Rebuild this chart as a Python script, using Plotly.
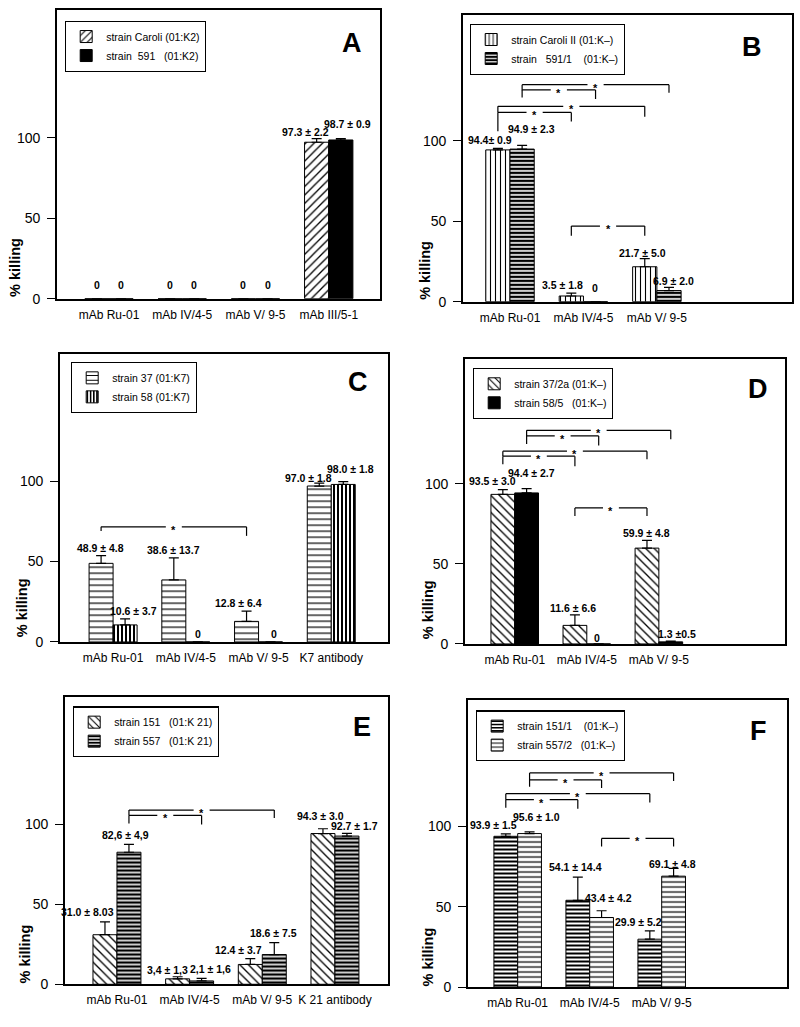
import plotly.graph_objects as go

W, H = 800, 1027
NB = "\u00a0"

# ------------------------- DATA -------------------------
# Panel A
cats_A = ["mAb Ru-01", "mAb IV/4-5", "mAb V/ 9-5", "mAb III/5-1"]
names_A = ["strain Caroli (01:K2)", "strain" + NB * 2 + "591" + NB * 3 + "(01:K2)"]
vals_A1 = [0, 0, 0, 97.3]
sd_A1 = [0, 0, 0, 2.2]
vals_A2 = [0, 0, 0, 98.7]
sd_A2 = [0, 0, 0, 0.9]
text_A1 = ["0", "0", "0", "97.3 ± 2.2"]
text_A2 = ["0", "0", "0", "98.7 ± 0.9"]

# Panel B
cats_B = ["mAb Ru-01", "mAb IV/4-5", "mAb V/ 9-5"]
names_B = ["strain Caroli II (01:K–)", "strain" + NB * 3 + "591/1" + NB * 4 + "(01:K–)"]
vals_B1 = [94.4, 3.5, 21.7]
sd_B1 = [0.9, 1.8, 5.0]
vals_B2 = [94.9, 0, 6.9]
sd_B2 = [2.3, 0, 2.0]
text_B1 = ["94.4± 0.9", "3.5 ± 1.8", "21.7 ± 5.0"]
text_B2 = ["94.9 ± 2.3", "0", "6.9 ± 2.0"]

# Panel C
cats_C = ["mAb Ru-01", "mAb IV/4-5", "mAb V/ 9-5", "K7 antibody"]
names_C = ["strain 37 (01:K7)", "strain 58 (01:K7)"]
vals_C1 = [48.9, 38.6, 12.8, 97.0]
sd_C1 = [4.8, 13.7, 6.4, 1.8]
vals_C2 = [10.6, 0, 0, 98.0]
sd_C2 = [3.7, 0, 0, 1.8]
text_C1 = ["48.9 ± 4.8", "38.6 ± 13.7", "12.8 ± 6.4", "97.0 ± 1.8"]
text_C2 = ["10.6 ± 3.7", "0", "0", "98.0 ± 1.8"]

# Panel D
cats_D = ["mAb Ru-01", "mAb IV/4-5", "mAb V/ 9-5"]
names_D = ["strain 37/2a (01:K–)", "strain 58/5" + NB * 3 + "(01:K–)"]
vals_D1 = [93.5, 11.6, 59.9]
sd_D1 = [3.0, 6.6, 4.8]
vals_D2 = [94.4, 0, 1.3]
sd_D2 = [2.7, 0, 0.5]
text_D1 = ["93.5 ± 3.0", "11.6 ± 6.6", "59.9 ± 4.8"]
text_D2 = ["94.4 ± 2.7", "0", "1.3 ±0.5"]

# Panel E
cats_E = ["mAb Ru-01", "mAb IV/4-5", "mAb V/ 9-5", "K 21 antibody"]
names_E = ["strain 151" + NB * 3 + "(01:K 21)", "strain 557" + NB * 3 + "(01:K 21)"]
vals_E1 = [31.0, 3.4, 12.4, 94.3]
sd_E1 = [8.03, 1.3, 3.7, 3.0]
vals_E2 = [82.6, 2.1, 18.6, 92.7]
sd_E2 = [4.9, 1.6, 7.5, 1.7]
text_E1 = ["31.0 ± 8.03", "3,4 ± 1,3", "12.4 ± 3.7", "94.3 ± 3.0"]
text_E2 = ["82,6 ± 4,9", "2,1 ± 1,6", "18.6 ± 7.5", "92.7 ± 1.7"]

# Panel F
cats_F = ["mAb Ru-01", "mAb IV/4-5", "mAb V/ 9-5"]
names_F = ["strain 151/1" + NB * 4 + "(01:K–)", "strain 557/2" + NB * 3 + "(01:K–)"]
vals_F1 = [93.9, 54.1, 29.9]
sd_F1 = [1.5, 14.4, 5.2]
vals_F2 = [95.6, 43.4, 69.1]
sd_F2 = [1.0, 4.2, 4.8]
text_F1 = ["93.9 ± 1.5", "54.1 ± 14.4", "29.9 ± 5.2"]
text_F2 = ["95.6 ± 1.0", "43.4 ± 4.2", "69.1 ± 4.8"]

# significance brackets: (cat0, series0, cat1, series1, level)
br_B = [(0, 1, 2, 1, 135), (0, 1, 1, 1, 131.7), (0, 0, 2, 0, 121.5), (0, 0, 1, 0, 117.7), (1, 0, 2, 0, 47)]
br_C = [(0, 0, 2, 0, 71.6)]
br_D = [(0, 1, 2, 1, 133.5), (0, 1, 1, 1, 130), (0, 0, 2, 0, 120.5), (0, 0, 1, 0, 117.4), (1, 0, 2, 0, 85)]
br_E = [(0, 1, 2, 1, 109), (0, 1, 1, 1, 105.6)]
br_F = [(0, 1, 2, 1, 133.3), (0, 1, 1, 1, 129), (0, 0, 2, 0, 120.4), (0, 0, 1, 0, 116.7), (1, 1, 2, 1, 92.6)]

# ------------------------- STYLE / LAYOUT -------------------------
PAT = {
    "fwd": dict(shape="/", size=6, solidity=0.22),
    "back": dict(shape="\\", size=6, solidity=0.22),
    "vert": dict(shape="|", size=5, solidity=0.22),
    "vert_dark": dict(shape="|", size=4, solidity=0.5),
    "hor_light": dict(shape="-", size=6, solidity=0.2),
    "hor_mid": dict(shape="-", size=5, solidity=0.25),
    "hor_dark": dict(shape="-", size=4, solidity=0.6),
    "hor_dark2": dict(shape="-", size=4, solidity=0.5),
    "solid": None,
}

# label pixel shifts (dx, dy) relative to the error-bar top
panels = [
    dict(letter="A", cats=cats_A, names=names_A, vals=[vals_A1, vals_A2], sds=[sd_A1, sd_A2],
         texts=[text_A1, text_A2], pats=["fwd", "solid"],
         px=(57, 380), py=(10, 301), ymax=179.6, xr=(-0.71, 3.70),
         shifts=[[(0, 14), (0, 14), (0, 14), (-11, 7)], [(0, 14), (0, 14), (0, 14), (7, 15)]],
         brackets=[], bdrop=[], legend=(65, 21), letterpos=(352, 43), ylab=(15, 270)),
    dict(letter="B", cats=cats_B, names=names_B, vals=[vals_B1, vals_B2], sds=[sd_B1, sd_B2],
         texts=[text_B1, text_B2], pats=["vert", "hor_dark"],
         px=(463, 792), py=(15, 304), ymax=178.4, xr=(-0.64, 3.84),
         shifts=[[(-8, 8), (-9, 8), (-2, 6)], [(9, 16), (-1, 14), (5, 6)]],
         brackets=br_B, bdrop=[(3.5, 5), (4.7, 5.7), (3.8, 6.5), (11.7, 5.7), (6, 6)],
         legend=(470, 24), letterpos=(752, 47), ylab=(425, 273)),
    dict(letter="C", cats=cats_C, names=names_C, vals=[vals_C1, vals_C2], sds=[sd_C1, sd_C2],
         texts=[text_C1, text_C2], pats=["hor_light", "vert_dark"],
         px=(60, 388), py=(357, 647), ymax=179, xr=(-0.73, 3.78),
         shifts=[[(-1, 8), (0, 8), (-8, 8), (-11, 5)], [(8, 8), (0, 8), (3, 8), (7, 13)]],
         brackets=br_C, bdrop=[(2.6, 5.6)],
         legend=(71, 365), letterpos=(358, 385), ylab=(22, 613)),
    dict(letter="D", cats=cats_D, names=names_D, vals=[vals_D1, vals_D2], sds=[sd_D1, sd_D2],
         texts=[text_D1, text_D2], pats=["back", "solid"],
         px=(465, 785), py=(362, 649), ymax=178, xr=(-0.69, 3.75),
         shifts=[[(-10, 9), (-2, 7), (0, 7)], [(5, 16), (-2, 6), (6, 7)]],
         brackets=br_D, bdrop=[(3.5, 5.5), (5, 6), (3, 5), (5, 6.4), (5, 5)],
         legend=(473, 371), letterpos=(758, 392), ylab=(428, 615)),
    dict(letter="E", cats=cats_E, names=names_E, vals=[vals_E1, vals_E2], sds=[sd_E1, sd_E2],
         texts=[text_E1, text_E2], pats=["back", "hor_dark"],
         px=(65, 388), py=(702, 992), ymax=180, xr=(-0.715, 3.73),
         shifts=[[(-17, 10), (-10, 7), (-12, 9), (-2, 13)], [(-3, 9), (9, 9), (-1, 10), (8, 7)]],
         brackets=br_E, bdrop=[(3.4, 5), (5, 5.6)],
         legend=(73, 712), letterpos=(362, 733), ylab=(25, 962)),
    dict(letter="F", cats=cats_F, names=names_F, vals=[vals_F1, vals_F2], sds=[sd_F1, sd_F2],
         texts=[text_F1, text_F2], pats=["hor_dark2", "hor_mid"],
         px=(468, 787), py=(705, 995), ymax=179, xr=(-0.69, 3.74),
         shifts=[[(-12, 9), (-2, 10), (-11, 9)], [(7, 15), (7, 13), (-1, 4)]],
         brackets=br_F, bdrop=[(4.3, 5), (4.3, 5), (3.7, 5.4), (5, 5.7), (5, 5)],
         legend=(476, 716), letterpos=(758, 737), ylab=(428, 965)),
]

BARGAP = 0.34
OFF = (1 - BARGAP) / 4.0
SERIES_OFF = [-OFF, OFF]
GAP = 0.11  # half-gap (category units) around the bracket star

MAIN_FONT = "Liberation Sans, Arial, Helvetica, sans-serif"
LABEL_FONT = dict(family=MAIN_FONT, size=10.5, color="black", weight="bold")

fig = go.Figure()
layout = dict(width=W, height=H, margin=dict(l=0, r=0, t=0, b=0),
              paper_bgcolor="white", plot_bgcolor="white",
              barmode="group", bargap=BARGAP, bargroupgap=0,
              font=dict(family=MAIN_FONT, color="black"))
annotations = []
shapes = []

for i, p in enumerate(panels, start=1):
    xa = "x" if i == 1 else f"x{i}"
    ya = "y" if i == 1 else f"y{i}"
    lg = "legend" if i == 1 else f"legend{i}"
    n = len(p["cats"])
    xs = list(range(n))
    for s in range(2):
        pk = p["pats"][s]
        if PAT[pk] is None:
            marker = dict(color="black", line=dict(color="black", width=1))
        else:
            pat = dict(PAT[pk])
            pat.update(fgcolor="black", bgcolor="white", fillmode="replace")
            marker = dict(color="black", pattern=pat, line=dict(color="black", width=1))
        sd = [v if v > 0 else None for v in p["sds"][s]]
        fig.add_trace(go.Bar(
            x=xs, y=p["vals"][s], name=p["names"][s], marker=marker,
            xaxis=xa, yaxis=ya, legend=lg, offsetgroup=str(s),
            error_y=dict(type="data", symmetric=False, array=sd, arrayminus=[0] * n,
                         color="black", thickness=1.2, width=5),
            hoverinfo="skip",
        ))
        for k in range(n):
            dx, dy = p["shifts"][s][k]
            annotations.append(dict(
                x=k + SERIES_OFF[s], y=p["vals"][s][k] + p["sds"][s][k], xref=xa, yref=ya,
                text=p["texts"][s][k], showarrow=False, xshift=dx, yshift=dy,
                xanchor="center", yanchor="middle", font=LABEL_FONT))

    x0p, x1p = p["px"]
    y0p, y1p = p["py"]
    axn = "" if i == 1 else str(i)
    layout["xaxis" + axn] = dict(
        domain=[x0p / W, x1p / W], range=list(p["xr"]), anchor=ya,
        tickvals=xs, ticktext=p["cats"], ticks="outside", ticklen=4,
        tickcolor="rgba(0,0,0,0)", showgrid=False, zeroline=False,
        showline=True, mirror=True, linecolor="black", linewidth=1.6,
        tickfont=dict(family=MAIN_FONT, size=12, color="black"), fixedrange=True)
    layout["yaxis" + axn] = dict(
        domain=[1 - y1p / H, 1 - y0p / H], range=[0, p["ymax"]], anchor=xa,
        tickvals=[0, 50, 100], ticks="outside", ticklen=8, tickwidth=1.4, tickcolor="black",
        ticklabelstandoff=4,
        showgrid=False, zeroline=False, showline=True, mirror=True,
        linecolor="black", linewidth=1.6,
        tickfont=dict(family=MAIN_FONT, size=14, color="black"), fixedrange=True)
    lx, ly = p["legend"]
    layout[lg] = dict(x=lx / W, y=1 - ly / H, xanchor="left", yanchor="top",
                      bordercolor="black", borderwidth=1.2, bgcolor="white",
                      font=dict(family=MAIN_FONT, size=10.5, color="black"),
                      tracegroupgap=0, itemclick=False, itemdoubleclick=False)

    # panel letter
    lpx, lpy = p["letterpos"]
    annotations.append(dict(x=lpx / W, y=1 - lpy / H, xref="paper", yref="paper",
                            text=p["letter"], showarrow=False, xanchor="center", yanchor="middle",
                            font=dict(family=MAIN_FONT, size=27, color="black", weight="bold")))
    # y axis label
    ylx, yly = p["ylab"]
    annotations.append(dict(x=ylx / W, y=1 - yly / H, xref="paper", yref="paper",
                            text="% killing", showarrow=False, textangle=-90,
                            xanchor="center", yanchor="middle",
                            font=dict(family=MAIN_FONT, size=14.5, color="black", weight="bold")))

    # significance brackets
    line = dict(color="black", width=1.2)
    for b, (c0, s0, c1, s1, lvl) in enumerate(p["brackets"]):
        xa0 = c0 + SERIES_OFF[s0]
        xa1 = c1 + SERIES_OFF[s1]
        mid = (xa0 + xa1) / 2
        ld, rd = p["bdrop"][b]
        for (u0, u1) in [(xa0, mid - GAP), (mid + GAP, xa1)]:
            shapes.append(dict(type="line", xref=xa, yref=ya, x0=u0, x1=u1, y0=lvl, y1=lvl, line=line))
        shapes.append(dict(type="line", xref=xa, yref=ya, x0=xa0, x1=xa0, y0=lvl, y1=lvl - ld, line=line))
        shapes.append(dict(type="line", xref=xa, yref=ya, x0=xa1, x1=xa1, y0=lvl, y1=lvl - rd, line=line))
        annotations.append(dict(x=mid, y=lvl, xref=xa, yref=ya, text="*", showarrow=False,
                                yshift=-3, xanchor="center", yanchor="middle",
                                font=dict(family=MAIN_FONT, size=11, color="black", weight="bold")))

layout["annotations"] = annotations
layout["shapes"] = shapes
fig.update_layout(**layout)
fig.write_html("out.html", config={"displayModeBar": False},
               post_script="document.body.style.margin='0';document.body.style.padding='0';"
                           "document.body.style.overflow='hidden';")
